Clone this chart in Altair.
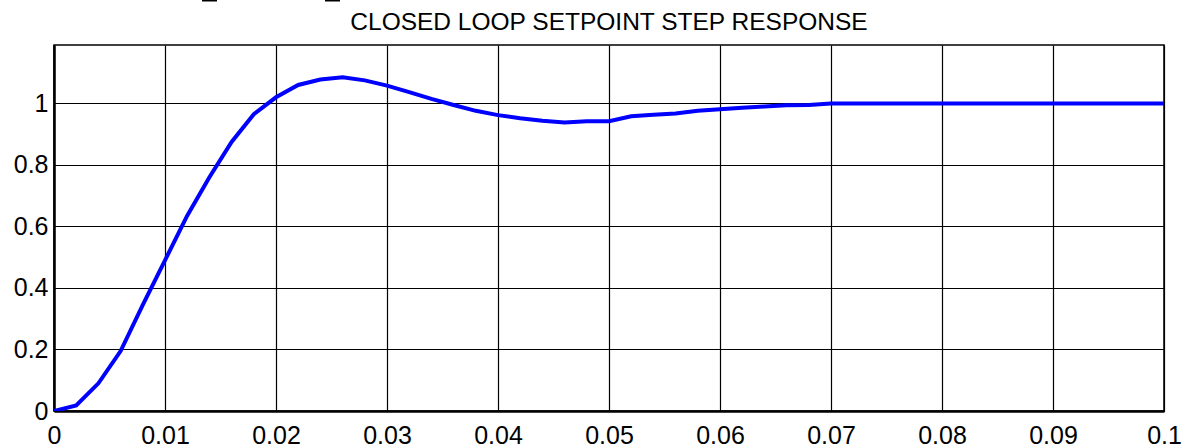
import altair as alt
import pandas as pd

# Closed-loop setpoint step response samples (time in s, output normalised)
time_s = [0.000, 0.002, 0.004, 0.006, 0.008, 0.010, 0.012, 0.014, 0.016, 0.018,
          0.020, 0.022, 0.024, 0.026, 0.028, 0.030, 0.032, 0.034, 0.036, 0.038,
          0.040, 0.042, 0.044, 0.046, 0.048, 0.050, 0.052, 0.054, 0.056, 0.058,
          0.060, 0.062, 0.064, 0.066, 0.068, 0.070, 0.080, 0.090, 0.100]
response = [0.000, 0.018, 0.090, 0.195, 0.345, 0.490, 0.635, 0.760, 0.875, 0.965,
            1.020, 1.060, 1.078, 1.085, 1.075, 1.058, 1.037, 1.015, 0.995, 0.976,
            0.962, 0.952, 0.944, 0.938, 0.942, 0.942, 0.958, 0.963, 0.967, 0.976,
            0.981, 0.986, 0.990, 0.994, 0.995, 1.000, 1.000, 1.000, 1.000]

x_ticks = [0, 0.01, 0.02, 0.03, 0.04, 0.05, 0.06, 0.07, 0.08, 0.09, 0.1]
y_ticks = [0, 0.2, 0.4, 0.6, 0.8, 1.0]

TITLE = "CLOSED LOOP SETPOINT STEP RESPONSE"

df = pd.DataFrame({"t": time_s, "y": response})

FONT = "Liberation Sans"
W, H = 1110, 366

line = alt.Chart(df).mark_line(color="#0000ff", strokeWidth=4, clip=True).encode(
    x=alt.X(
        "t:Q",
        scale=alt.Scale(domain=[0, 0.1], nice=False, zero=False),
        axis=alt.Axis(
            values=x_ticks, format="~g", title=None, grid=True,
            gridColor="black", gridOpacity=1, gridWidth=1.2,
            domainColor="black", domainWidth=2.5, ticks=False,
            labelFont=FONT, labelFontSize=25, labelColor="black",
            labelPadding=12, labelFlush=False, labelOverlap=False,
        ),
    ),
    y=alt.Y(
        "y:Q",
        scale=alt.Scale(domain=[0, 1.19], nice=False, zero=False),
        axis=alt.Axis(
            values=y_ticks, format="~g", title=None, grid=True,
            gridColor="black", gridOpacity=1, gridWidth=1.2,
            domainColor="black", domainWidth=2.5, ticks=False,
            labelFont=FONT, labelFontSize=25, labelColor="black",
            labelPadding=6, labelFlush=False, labelOverlap=False,
        ),
    ),
)

# Title drawn as a text mark centred over the plot area
title = alt.Chart(pd.DataFrame({"label": [TITLE]})).mark_text(
    font=FONT, fontSize=24.5, color="black", align="center", baseline="alphabetic",
).encode(x=alt.value(W / 2), y=alt.value(-15.5), text="label:N")

# Remnants of a clipped caption line above the title
frag_df = pd.DataFrame({"x0": [148, 271], "x1": [163, 286]})
frags = alt.Chart(frag_df).mark_rule(color="black", strokeWidth=2, clip=False).encode(
    x=alt.X("x0:Q", scale=None), x2="x1:Q", y=alt.value(-44.5)
)

chart = alt.layer(line, title, frags).properties(
    width=W,
    height=H,
    padding={"left": 54, "top": 45, "right": 21, "bottom": 37},
    autosize=alt.AutoSizeParams(type="none"),
    background="white",
).configure_view(stroke="black", strokeWidth=1.5)

chart.save("out.html", embed_options={"renderer": "svg", "actions": False})
